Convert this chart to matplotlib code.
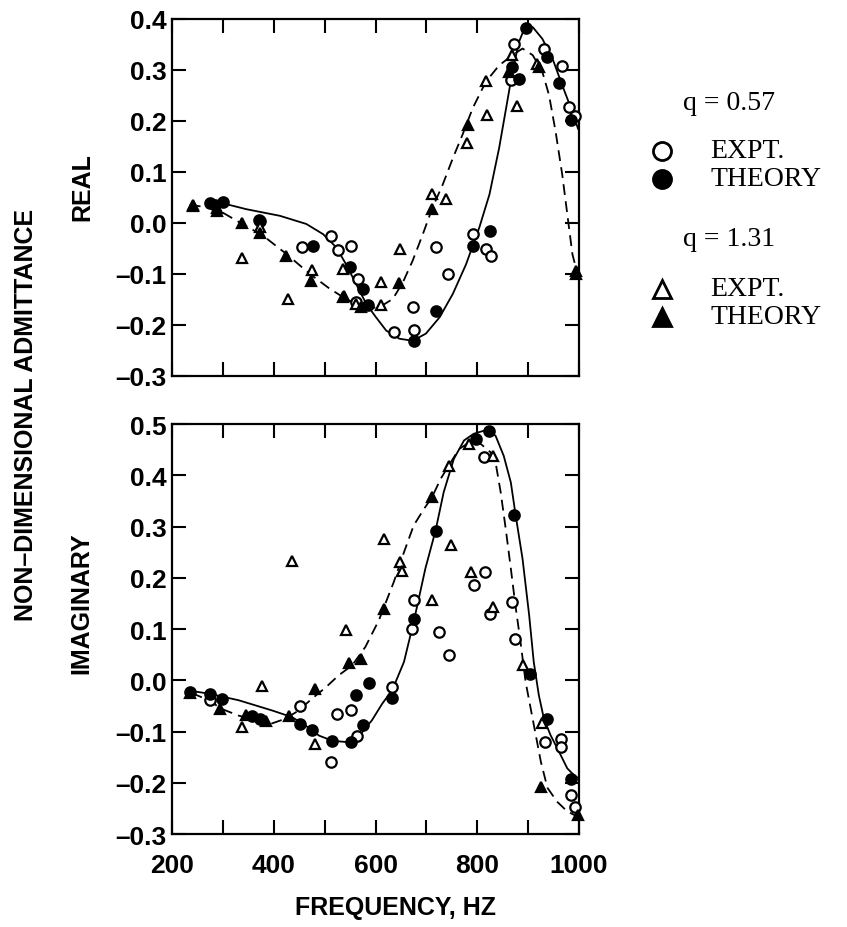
import matplotlib
matplotlib.use('Agg')
import matplotlib.pyplot as plt
from matplotlib import font_manager
from matplotlib.ticker import MultipleLocator, FixedLocator, FuncFormatter

# ---- data (frequency in Hz, admittance) ----
# REAL part, q = 0.57 theory curve (solid) and q = 1.31 theory curve (dashed)
real_057_curve_f = [294, 346, 412, 464, 497, 523, 542, 562, 582, 601, 621, 647, 673, 699, 726,
                    752, 778, 804, 824, 843, 860, 869, 882, 895, 909, 928, 948, 967, 987, 998]
real_057_curve_v = [0.040, 0.027, 0.014, -0.002, -0.022, -0.048, -0.081, -0.120, -0.159, -0.185,
                    -0.211, -0.227, -0.231, -0.217, -0.185, -0.139, -0.081, -0.009, 0.056, 0.147,
                    0.244, 0.296, 0.355, 0.387, 0.384, 0.361, 0.322, 0.270, 0.218, 0.185]
real_131_curve_f = [235, 288, 333, 379, 425, 471, 510, 542, 582, 608, 634, 654, 673, 693, 712, 732,
                    752, 771, 791, 817, 843, 869, 889, 909, 928, 941, 954, 967, 977, 987, 997]
real_131_curve_v = [0.036, 0.027, 0.001, -0.025, -0.061, -0.100, -0.129, -0.149, -0.168, -0.165,
                    -0.149, -0.116, -0.074, -0.022, 0.030, 0.075, 0.127, 0.173, 0.225, 0.277,
                    0.309, 0.329, 0.342, 0.329, 0.296, 0.251, 0.179, 0.095, 0.017, -0.061, -0.100]

real_expt_057_f = [370, 456, 513, 526, 552, 565, 562, 637, 676, 673, 719, 742, 791, 817, 827,
                   866, 873, 931, 967, 980, 993]
real_expt_057_v = [0.005, -0.047, -0.025, -0.053, -0.046, -0.110, -0.155, -0.214, -0.210, -0.165,
                   -0.047, -0.100, -0.022, -0.051, -0.064, 0.280, 0.350, 0.342, 0.307, 0.228, 0.209]
real_thy_057_f = [274, 284, 300, 372, 477, 549, 575, 586, 676, 719, 792, 825, 869, 882, 895,
                  938, 961, 984]
real_thy_057_v = [0.040, 0.036, 0.042, 0.003, -0.045, -0.087, -0.130, -0.160, -0.231, -0.172,
                  -0.045, -0.016, 0.306, 0.283, 0.382, 0.325, 0.274, 0.202]
real_expt_131_f = [242, 288, 337, 373, 428, 476, 536, 539, 562, 611, 611, 648, 712, 739, 780,
                   817, 820, 869, 879, 918, 994]
real_expt_131_v = [0.036, 0.030, -0.069, -0.008, -0.149, -0.093, -0.090, -0.144, -0.158, -0.116,
                   -0.160, -0.051, 0.057, 0.046, 0.157, 0.279, 0.212, 0.329, 0.230, 0.312, -0.094]
real_thy_131_f = [242, 288, 337, 373, 425, 474, 536, 572, 647, 712, 781, 863, 922, 994]
real_thy_131_v = [0.033, 0.023, -0.001, -0.020, -0.064, -0.113, -0.146, -0.165, -0.118, 0.027,
                  0.192, 0.296, 0.306, -0.100]

# IMAGINARY part
imag_057_curve_f = [239, 272, 331, 397, 436, 462, 489, 515, 548, 574, 593, 613, 633, 656, 675,
                    698, 718, 734, 754, 774, 793, 820, 836, 852, 866, 875, 889, 902, 911, 921,
                    931, 944, 961, 977, 990, 1000]
imag_057_curve_v = [-0.021, -0.026, -0.039, -0.059, -0.072, -0.088, -0.108, -0.118, -0.121, -0.101,
                    -0.078, -0.046, -0.019, 0.036, 0.114, 0.218, 0.292, 0.367, 0.432, 0.468,
                    0.481, 0.489, 0.477, 0.438, 0.386, 0.325, 0.237, 0.127, 0.036, -0.029,
                    -0.075, -0.107, -0.140, -0.172, -0.185, -0.192]
imag_131_curve_f = [239, 272, 298, 331, 364, 397, 423, 449, 475, 502, 528, 554, 580, 607, 636,
                    656, 675, 695, 711, 728, 744, 764, 784, 807, 826, 836, 846, 856, 866, 875,
                    885, 895, 905, 915, 925, 938, 957, 977, 997]
imag_131_curve_v = [-0.025, -0.039, -0.056, -0.069, -0.078, -0.084, -0.075, -0.059, -0.036, -0.014,
                    0.010, 0.029, 0.065, 0.118, 0.192, 0.250, 0.302, 0.334, 0.357, 0.393,
                    0.419, 0.451, 0.464, 0.461, 0.445, 0.425, 0.367, 0.295, 0.218, 0.146,
                    0.075, -0.003, -0.055, -0.107, -0.159, -0.210, -0.237, -0.256, -0.266]

imag_expt_057_f = [275, 452, 513, 525, 551, 564, 633, 672, 675, 725, 744, 793, 813, 816, 826,
                   869, 875, 934, 964, 964, 984, 992]
imag_expt_057_v = [-0.039, -0.051, -0.160, -0.065, -0.058, -0.108, -0.013, 0.101, 0.156, 0.095,
                   0.049, 0.185, 0.435, 0.211, 0.130, 0.153, 0.081, -0.120, -0.114, -0.130,
                   -0.224, -0.248]
imag_thy_057_f = [236, 275, 298, 357, 372, 452, 475, 515, 551, 561, 575, 588, 633, 675, 718,
                  797, 823, 873, 904, 938, 984]
imag_thy_057_v = [-0.022, -0.027, -0.036, -0.070, -0.075, -0.085, -0.098, -0.118, -0.121, -0.029,
                  -0.088, -0.005, -0.034, 0.120, 0.292, 0.471, 0.487, 0.323, 0.013, -0.075, -0.192]
imag_expt_131_f = [338, 376, 435, 482, 542, 616, 649, 652, 712, 744, 748, 784, 787, 830, 830,
                   889, 928]
imag_expt_131_v = [-0.092, -0.012, 0.232, -0.124, 0.099, 0.276, 0.231, 0.214, 0.156, 0.419,
                   0.264, 0.461, 0.211, 0.438, 0.143, 0.029, -0.084]
imag_thy_131_f = [236, 295, 345, 384, 430, 481, 548, 572, 616, 712, 925, 998]
imag_thy_131_v = [-0.025, -0.056, -0.068, -0.080, -0.069, -0.018, 0.033, 0.042, 0.140, 0.357,
                  -0.208, -0.262]

real_ylim = (-0.3, 0.4)
imag_ylim = (-0.3, 0.5)
freq_lim = (200, 1000)


def pick(names, fallback):
    have = {f.name for f in font_manager.fontManager.ttflist}
    for n in names:
        if n in have:
            return n
    return fallback


SANS = pick(['Liberation Sans Narrow', 'DejaVu Sans Condensed'], 'Liberation Sans')
SANS_WIDE = pick(['Liberation Sans'], 'DejaVu Sans')
SERIF = pick(['Liberation Serif', 'DejaVu Serif'], 'serif')


def tick_fmt(v, pos):
    s = '%.1f' % abs(v)
    return ('\u2013' + s) if v < -1e-9 else s


def style_axes(ax, ylim, xlabels):
    ax.set_xlim(*freq_lim)
    ax.set_ylim(*ylim)
    ax.xaxis.set_major_locator(MultipleLocator(200))
    ax.xaxis.set_minor_locator(MultipleLocator(100))
    ax.yaxis.set_major_locator(MultipleLocator(0.1))
    ax.yaxis.set_major_formatter(FuncFormatter(tick_fmt))
    ax.tick_params(which='both', direction='in', top=True, right=True, length=10, width=1.5)
    ax.tick_params(axis='y', pad=4, labelsize=19)
    ax.tick_params(axis='x', pad=14, labelsize=19, labelbottom=xlabels)
    for lab in ax.get_xticklabels() + ax.get_yticklabels():
        lab.set_fontfamily(SANS)
        lab.set_fontweight('bold')
    for sp in ax.spines.values():
        sp.set_linewidth(1.6)


def draw_panel(ax, c057, c131, e057, t057, e131, t131):
    ax.plot(c057[0], c057[1], color='black', lw=1.3, zorder=2)
    ax.plot(c131[0], c131[1], color='black', lw=1.3, ls=(0, (6, 3.5)), zorder=2)
    mk = dict(ls='none', markersize=7.5, markeredgewidth=1.6, markeredgecolor='black', zorder=3,
              clip_on=False)
    ax.plot(e057[0], e057[1], marker='o', markerfacecolor='white', **mk)
    ax.plot(t057[0], t057[1], marker='o', markerfacecolor='black', **mk)
    ax.plot(e131[0], e131[1], marker='^', markerfacecolor='white', **mk)
    ax.plot(t131[0], t131[1], marker='^', markerfacecolor='black', **mk)


fig = plt.figure(figsize=(8.47, 9.28), dpi=100)
ax1 = fig.add_axes([0.2031, 0.5938, 0.4805, 0.3847])
ax2 = fig.add_axes([0.2031, 0.1002, 0.4805, 0.4418])

draw_panel(ax1, (real_057_curve_f, real_057_curve_v), (real_131_curve_f, real_131_curve_v),
           (real_expt_057_f, real_expt_057_v), (real_thy_057_f, real_thy_057_v),
           (real_expt_131_f, real_expt_131_v), (real_thy_131_f, real_thy_131_v))
draw_panel(ax2, (imag_057_curve_f, imag_057_curve_v), (imag_131_curve_f, imag_131_curve_v),
           (imag_expt_057_f, imag_expt_057_v), (imag_thy_057_f, imag_thy_057_v),
           (imag_expt_131_f, imag_expt_131_v), (imag_thy_131_f, imag_thy_131_v))
style_axes(ax1, real_ylim, False)
style_axes(ax2, imag_ylim, True)

# axis titles
lab = dict(fontfamily=SANS_WIDE, fontweight='bold', fontsize=18, ha='center', va='center')
fig.text(395 / 847, 1 - 908 / 928, 'FREQUENCY, HZ', **lab)
fig.text(26 / 847, 1 - 415 / 928, 'NON\u2013DIMENSIONAL ADMITTANCE', rotation=90, **lab)
fig.text(82 / 847, 1 - 187 / 928, 'REAL', rotation=90, **lab)
fig.text(81 / 847, 1 - 603 / 928, 'IMAGINARY', rotation=90, **lab)

# hand-made legend on the right
leg_txt = dict(fontfamily=SERIF, fontsize=20, va='center', ha='left')
fig.text(683 / 847, 1 - 104 / 928, 'q = 0.57', **leg_txt)
fig.text(683 / 847, 1 - 240 / 928, 'q = 1.31', **leg_txt)
entries = [(152, 'o', 'white', 'EXPT.'), (180, 'o', 'black', 'THEORY'),
           (290, '^', 'white', 'EXPT.'), (318, '^', 'black', 'THEORY')]
for ypx, m, fc, txt in entries:
    y = 1 - ypx / 928
    fig.lines.append(plt.Line2D([662 / 847], [y], transform=fig.transFigure, marker=m,
                                markersize=13, markerfacecolor=fc, markeredgecolor='black',
                                markeredgewidth=2, ls='none'))
    fig.text(710 / 847, y, txt, **leg_txt)

fig.savefig('out.png', dpi=100)
